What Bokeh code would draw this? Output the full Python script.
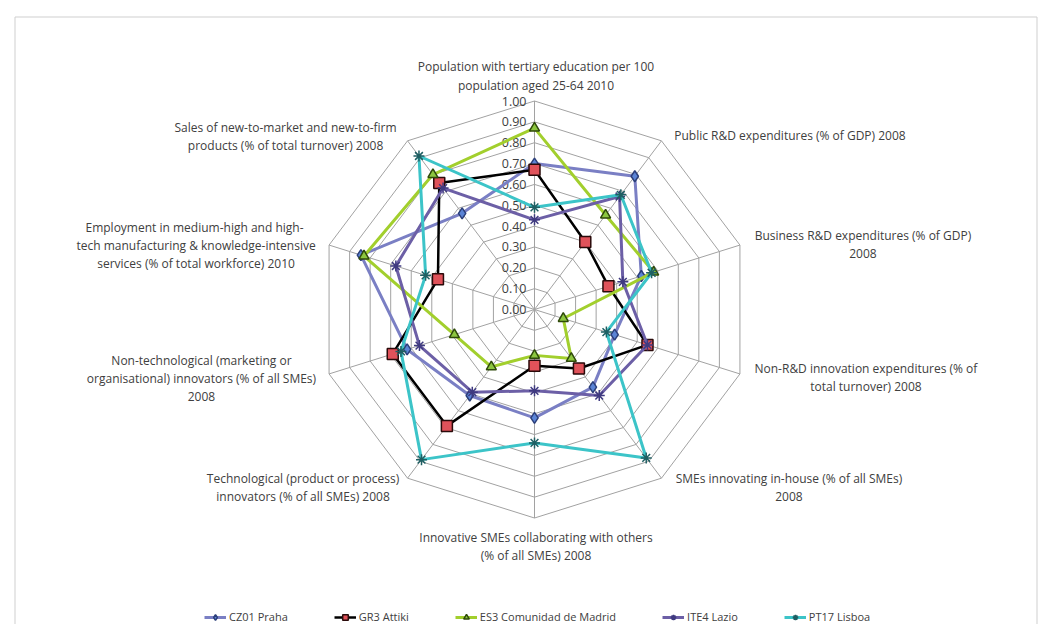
import numpy as np
from bokeh.plotting import figure
from bokeh.models import ColumnDataSource, Range1d, Legend, LegendItem
from bokeh.embed import file_html
from bokeh.resources import INLINE
from bokeh.core.properties import value

# ---------------- data ----------------
categories = [
    "Population with tertiary education per 100\npopulation aged 25-64 2010",
    "Public R&D expenditures (% of GDP) 2008",
    "Business R&D expenditures (% of GDP)\n2008",
    "Non-R&D innovation expenditures (% of\ntotal turnover) 2008",
    "SMEs innovating in-house (% of all SMEs)\n2008",
    "Innovative SMEs collaborating with others\n(% of all SMEs) 2008",
    "Technological (product or process)\ninnovators (% of all SMEs) 2008",
    "Non-technological (marketing or\norganisational) innovators (% of all SMEs)\n2008",
    "Employment in  medium-high and high-\ntech manufacturing & knowledge-intensive\nservices (% of total workforce) 2010",
    "Sales of new-to-market and new-to-firm\nproducts (% of total turnover) 2008",
]
series_names = ["CZ01 Praha", "GR3 Attiki", "ES3 Comunidad de Madrid", "ITE4 Lazio", "PT17 Lisboa"]
cz01_praha = [0.70, 0.79, 0.52, 0.39, 0.46, 0.52, 0.51, 0.62, 0.845, 0.57]
gr3_attiki = [0.67, 0.40, 0.36, 0.55, 0.35, 0.27, 0.69, 0.69, 0.47, 0.75]
es3_madrid = [0.87, 0.56, 0.58, 0.14, 0.29, 0.22, 0.34, 0.39, 0.83, 0.80]
ite4_lazio = [0.43, 0.67, 0.43, 0.55, 0.51, 0.39, 0.49, 0.56, 0.675, 0.72]
pt17_lisboa = [0.49, 0.68, 0.57, 0.35, 0.88, 0.64, 0.89, 0.65, 0.53, 0.91]
tick_values = [0.0, 0.1, 0.2, 0.3, 0.4, 0.5, 0.6, 0.7, 0.8, 0.9, 1.0]
tick_labels = ["0.00", "0.10", "0.20", "0.30", "0.40", "0.50", "0.60", "0.70", "0.80", "0.90", "1.00"]

# ---------------- layout ----------------
W, H = 1042, 624
cx, cy = 534.0, 309.0          # radar centre in px (from left / top of the figure)
sx, sy = 216.0, 208.5          # px per unit radius (horizontal / vertical)

FONT = "Open Sans"
TXT = "#404040"


def px_x(px):
    return (px - cx) / sx


def px_y(py):
    return (cy - py) / sy


n = len(categories)
theta = np.pi / 2 - 2 * np.pi * np.arange(n) / n
cos_t, sin_t = np.cos(theta), np.sin(theta)

p = figure(width=W, height=H, output_backend="svg", toolbar_location=None,
           x_axis_location=None, y_axis_location=None,
           x_range=Range1d(px_x(0), px_x(W)), y_range=Range1d(px_y(H), px_y(0)),
           min_border=0, min_border_left=0, min_border_right=0,
           min_border_top=0, min_border_bottom=0)
p.grid.visible = False
p.outline_line_color = None
p.background_fill_color = "white"
p.border_fill_color = "white"

# chart-area border
p.quad(left=[px_x(14.5)], right=[px_x(1036.5)], top=[px_y(16.5)], bottom=[px_y(H + 20)],
       fill_alpha=0, line_color="#cfcfcf", line_width=1)

# grid rings and spokes
ring_xs, ring_ys = [], []
for v in tick_values[1:]:
    ring_xs.append(list(np.append(v * cos_t, v * cos_t[0])))
    ring_ys.append(list(np.append(v * sin_t, v * sin_t[0])))
p.multi_line(ring_xs, ring_ys, line_color="#a2a2a2", line_width=1)
spoke_xs = [[0, tick_values[-1] * c] for c in cos_t]
spoke_ys = [[0, tick_values[-1] * s] for s in sin_t]
p.multi_line(spoke_xs, spoke_ys, line_color="#a2a2a2", line_width=1)

# tick labels along the first axis
p.text(x=[0] * len(tick_values), y=tick_values, text=tick_labels,
       x_offset=-8, text_align="right", text_baseline="middle",
       text_font=value(FONT), text_font_size="12.5px", text_color=TXT)

# category labels (centre offsets in px from the outer vertex)
label_offsets = [(1.5, -25), (128.5, -5.8), (123, -0.6), (126, 4), (127.5, 9.3),
                 (1.5, 28.5), (-104.5, 9.3), (-127.6, 5), (-133, 0), (-122, -4.3)]
lab_src = ColumnDataSource(dict(
    x=list(cos_t), y=list(sin_t), text=categories,
    xo=[o[0] for o in label_offsets], yo=[o[1] for o in label_offsets]))
p.text(x="x", y="y", text="text", x_offset="xo", y_offset="yo", source=lab_src,
       text_align="center", text_baseline="middle", text_line_height=1.06,
       text_font=value(FONT), text_font_size="12px", text_color=TXT)

# series
styles = [
    dict(line="#7a7fc4", lw=3, marker="diamond", size=11, fill="#5b84d6", mline="#2c3f7a"),
    dict(line="#000000", lw=2.5, marker="square", size=11, fill="#e0525a", mline="#2a0a0a"),
    dict(line="#a2cf2d", lw=3, marker="triangle", size=10, fill="#8cc63f", mline="#2f4a0a"),
    dict(line="#6c5fa6", lw=3, marker="asterisk", size=11, fill="#6c5fa6", mline="#3f3a80"),
    dict(line="#3cc4c8", lw=3, marker="asterisk", size=11, fill="#3cc4c8", mline="#1f5f63"),
]
all_series = [cz01_praha, gr3_attiki, es3_madrid, ite4_lazio, pt17_lisboa]
items = []
for name, vals, st in zip(series_names, all_series, styles):
    v = np.array(vals)
    xs = v * cos_t
    ys = v * sin_t
    src = ColumnDataSource(dict(x=list(np.append(xs, xs[0])), y=list(np.append(ys, ys[0]))))
    lr = p.line("x", "y", source=src, line_color=st["line"], line_width=st["lw"], line_join="round")
    msrc = ColumnDataSource(dict(x=list(xs), y=list(ys), value=list(v)))
    sr = p.scatter("x", "y", source=msrc, marker=st["marker"], size=st["size"],
                   fill_color=st["fill"], line_color=st["mline"], line_width=1.5)
    items.append(LegendItem(label=name, renderers=[lr, sr]))

legend = Legend(items=items, orientation="horizontal", location=(204, 0),
                label_text_font=FONT, label_text_font_size="11px", label_text_color=TXT,
                glyph_width=22, glyph_height=14, label_standoff=3, spacing=46,
                padding=0, margin=0, border_line_color=None, background_fill_alpha=0)
p.add_layout(legend)

open("out.html", "w").write(file_html(p, INLINE))
